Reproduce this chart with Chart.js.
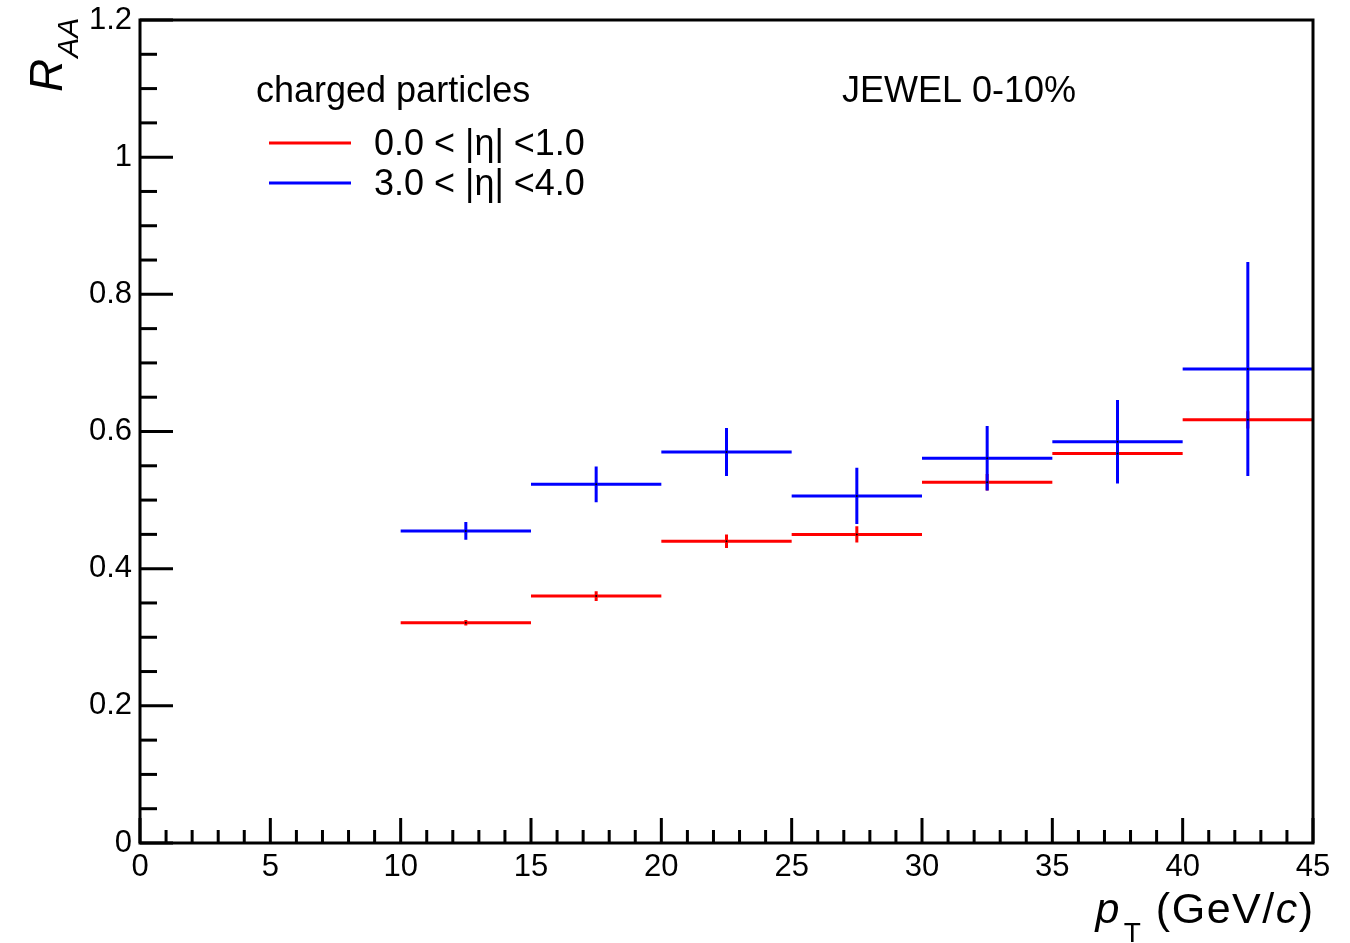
<!DOCTYPE html>
<html>
<head>
<meta charset="utf-8">
<script src="https://cdn.jsdelivr.net/npm/chart.js@4.4.1/dist/chart.umd.min.js"></script>
<style>
  html, body { margin: 0; padding: 0; background: #fff; }
  canvas { display: block; }
</style>
</head>
<body>
<canvas id="c" width="1350" height="943"></canvas>
<script>
// ---- data ----
const binLow  = [10, 15, 20, 25, 30, 35, 40];
const binHigh = [15, 20, 25, 30, 35, 40, 45];
const redValues  = [0.321, 0.360, 0.440, 0.450, 0.526, 0.568, 0.617];
const redErrors  = [0.004, 0.007, 0.010, 0.012, 0.012, 0.013, 0.0125];
const blueValues = [0.455, 0.523, 0.570, 0.506, 0.561, 0.585, 0.691];
const blueErrors = [0.013, 0.026, 0.035, 0.041, 0.047, 0.061, 0.156];
const seriesLabels = ['0.0 < |η| <1.0', '3.0 < |η| <4.0'];
const seriesColors = ['#ff0000', '#0000ff'];
const legendHeader = 'charged particles';
const annotation = 'JEWEL 0-10%';
const xTickLabels = ['0', '5', '10', '15', '20', '25', '30', '35', '40', '45'];
const yTickLabels = ['0', '0.2', '0.4', '0.6', '0.8', '1', '1.2'];

const FONT = '"Liberation Sans", Arial, Helvetica, sans-serif';

function buildSegments(values, errors) {
  const pts = [];
  values.forEach((v, i) => {
    const c = (binLow[i] + binHigh[i]) / 2;
    pts.push({x: binLow[i], y: v}, {x: binHigh[i], y: v}, {x: binHigh[i], y: null});
    pts.push({x: c, y: v - errors[i]}, {x: c, y: v + errors[i]}, {x: c, y: null});
  });
  return pts;
}
function buildCenters(values) {
  return values.map((v, i) => ({x: (binLow[i] + binHigh[i]) / 2, y: v}));
}

const datasets = [
  {label: seriesLabels[0], data: buildSegments(redValues, redErrors), borderColor: seriesColors[0],
   backgroundColor: seriesColors[0], showLine: true, spanGaps: false, pointRadius: 0, borderWidth: 3, order: 2},
  {label: seriesLabels[1], data: buildSegments(blueValues, blueErrors), borderColor: seriesColors[1],
   backgroundColor: seriesColors[1], showLine: true, spanGaps: false, pointRadius: 0, borderWidth: 3, order: 1},
  {label: 'm1', data: buildCenters(redValues), showLine: false, pointRadius: 1, pointBorderWidth: 0,
   pointBackgroundColor: '#000', order: 0},
  {label: 'm2', data: buildCenters(blueValues), showLine: false, pointRadius: 1, pointBorderWidth: 0,
   pointBackgroundColor: '#000', order: 0}
];

const rootStyle = {
  id: 'rootStyle',
  afterDraw(chart) {
    const {ctx, chartArea: a, scales: {x, y}} = chart;
    ctx.save();
    ctx.strokeStyle = '#000';
    ctx.lineWidth = 3;
    ctx.lineCap = 'butt';
    const line = (x1, y1, x2, y2) => { ctx.beginPath(); ctx.moveTo(x1, y1); ctx.lineTo(x2, y2); ctx.stroke(); };
    // x ticks: major every 5, minor every 1
    for (let i = 0; i <= 45; i++) {
      const px = x.getPixelForValue(i);
      line(px, a.bottom, px, a.bottom - (i % 5 === 0 ? 25 : 13));
    }
    // y ticks: major every 0.2, minor every 0.05
    for (let i = 0; i <= 24; i++) {
      const py = y.getPixelForValue(i * 0.05);
      line(a.left, py, a.left + (i % 4 === 0 ? 33 : 17), py);
    }
    ctx.strokeRect(a.left, a.top, a.right - a.left, a.bottom - a.top);

    // legend
    ctx.fillStyle = '#000';
    ctx.textAlign = 'left';
    ctx.textBaseline = 'alphabetic';
    ctx.font = '36px ' + FONT;
    ctx.fillText(legendHeader, 256, 102);
    ctx.fillText(annotation, 842, 102);
    const rows = [143, 183];
    seriesLabels.forEach((lab, i) => {
      ctx.strokeStyle = seriesColors[i];
      line(269, rows[i], 351, rows[i]);
      ctx.fillStyle = '#000';
      ctx.fillText(lab, 374, rows[i] + 12);
    });

    // x title: p_T (GeV/c), right aligned at frame edge
    const big = '43px ' + FONT, bigI = 'italic 43px ' + FONT, sub = '28px ' + FONT;
    const pieces = [
      {t: 'p', f: bigI, dy: 0},
      {t: 'T', f: sub, dy: 19, pre: 3},
      {t: ' (GeV/', f: big, dy: 0},
      {t: 'c', f: bigI, dy: 0},
      {t: ')', f: big, dy: 0}
    ];
    const sp = 1.5;
    let total = 0;
    pieces.forEach(p => { ctx.font = p.f; p.w = ctx.measureText(p.t).width + sp * p.t.length + (p.pre || 0); total += p.w; });
    let cx = a.right - total + sp;
    const base = 923;
    pieces.forEach(p => {
      ctx.font = p.f;
      let xx = cx + (p.pre || 0);
      for (const ch of p.t) {
        ctx.fillText(ch, xx, base + p.dy);
        xx += ctx.measureText(ch).width + sp;
      }
      cx += p.w;
    });

    // y title: R_AA rotated
    ctx.save();
    ctx.translate(62, 92);
    ctx.rotate(-Math.PI / 2);
    ctx.font = 'italic 46px ' + FONT;
    ctx.fillText('R', 0, 0);
    const rw = ctx.measureText('R').width;
    ctx.font = 'italic 30px ' + FONT;
    ctx.fillText('AA', rw + 1, 16);
    ctx.restore();

    ctx.restore();
  }
};

new Chart(document.getElementById('c'), {
  type: 'scatter',
  data: {datasets},
  options: {
    responsive: false,
    devicePixelRatio: 1,
    animation: false,
    events: [],
    layout: {padding: {left: 0, top: 20, right: 37, bottom: 0}},
    plugins: {legend: {display: false}, tooltip: {enabled: false}},
    scales: {
      x: {
        type: 'linear', min: 0, max: 45,
        grid: {display: false, drawTicks: false},
        border: {display: false},
        ticks: {stepSize: 5, padding: 6, color: '#000', font: {family: FONT, size: 31},
                maxRotation: 0, autoSkip: false,
                callback: (v) => xTickLabels[Math.round(v / 5)]},
        afterFit: (s) => { s.height = 100; s.paddingLeft = 0; s.paddingRight = 0; }
      },
      y: {
        type: 'linear', min: 0, max: 1.2,
        grid: {display: false, drawTicks: false},
        border: {display: false},
        ticks: {stepSize: 0.2, padding: 8, color: '#000', font: {family: FONT, size: 31},
                autoSkip: false,
                callback: (v) => yTickLabels[Math.round(v / 0.2)]},
        afterFit: (s) => { s.width = 140; s.paddingTop = 0; s.paddingBottom = 0; }
      }
    }
  },
  plugins: [rootStyle]
});
</script>
</body>
</html>
